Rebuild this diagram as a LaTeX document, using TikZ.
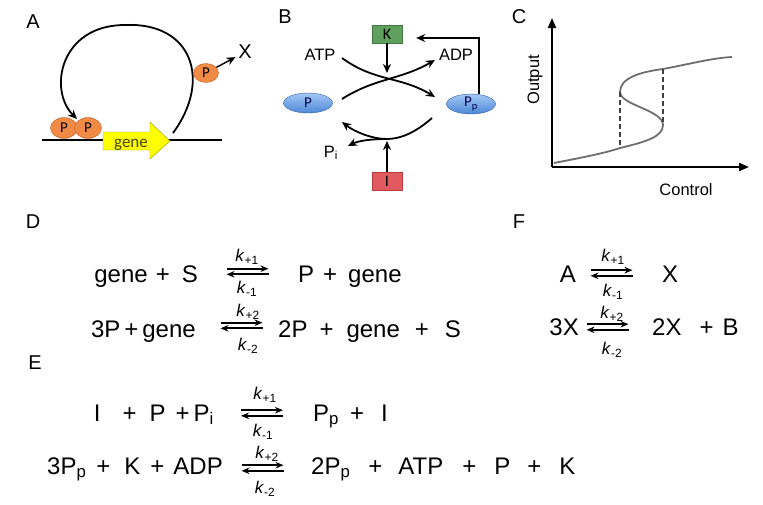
\documentclass[tikz,border=0pt]{standalone}
\usepackage{fontspec}
\setmainfont{Liberation Sans}
\newfontfamily\calibri{Carlito}
\usetikzlibrary{shapes.geometric, arrows.meta, positioning, calc}
\definecolor{protfill}{RGB}{240,138,68}
\definecolor{protline}{RGB}{190,100,45}
\definecolor{genefill}{RGB}{255,255,0}
\definecolor{geneline}{RGB}{150,150,20}
\definecolor{genetext}{RGB}{70,70,20}
\definecolor{bluetop}{RGB}{165,200,245}
\definecolor{bluebot}{RGB}{75,135,215}
\definecolor{blueline}{RGB}{55,95,165}
\definecolor{kinfill}{RGB}{95,160,95}
\definecolor{kinline}{RGB}{65,120,65}
\definecolor{inhfill}{RGB}{225,90,95}
\definecolor{inhline}{RGB}{185,60,65}
\definecolor{curvegray}{RGB}{110,110,110}
\newcommand{\tgap}[1]{\hspace{#1pt}}
\tikzset{
  lbl/.style={font=\fontsize{20}{20}\selectfont, inner sep=0pt},
  eq/.style={font=\fontsize{24}{24}\selectfont, inner sep=0pt},
  rate/.style={font=\fontsize{17}{17}\selectfont, inner sep=0pt},
  txt/.style={font=\fontsize{16.5}{16.5}\selectfont, inner sep=1pt},
  prot/.style={ellipse, draw=protline, fill=protfill, inner sep=0pt,
    minimum width=27, minimum height=21,
    font=\calibri\fontsize{15}{15}\selectfont},
  blob/.style={ellipse, draw=blueline, top color=bluetop, bottom color=bluebot,
    inner sep=0pt, minimum width=49, minimum height=20, text=blue!30!black,
    font=\calibri\fontsize{15}{15}\selectfont},
  enz/.style={rectangle, inner sep=0pt, minimum width=30, minimum height=18,
    font=\calibri\fontsize{16}{16}\selectfont},
  arr/.style={-{Stealth[length=9pt,width=8pt]}, line width=1.8pt},
  fwd/.style={-{Stealth[length=8pt,width=6.5pt]}, line width=1.7pt},
  axis/.style={-{Triangle[length=10pt,width=8pt]}, line width=2pt},
  guide/.style={black!75, dash pattern=on 5pt off 3pt, line width=1.2pt},
  equil/.pic={
    \draw[fwd] (-21,-2.8) -- (21,-2.8);
    \draw[fwd] (21,2.8) -- (-21,2.8);
  }
}

\begin{document}
\begin{tikzpicture}[x=1pt, y=-1pt]
  \useasboundingbox (0,0) rectangle (763,504);

  % A: autoregulated gene
  \node[lbl] (labA) at (33,22) {A};
  \draw[line width=1.8pt] (42,140) -- (222,140);
  \draw[draw=geneline, fill=genefill] (103,132) -- (150,132) -- (150,122)
    -- (170,141) -- (150,159) -- (150,150) -- (103,150) -- cycle;
  \node[font=\calibri\fontsize{17}{17}\selectfont, text=genetext] (gene)
    at (131,145) {gene};
  \node[prot] (p1) at (64,128) {P};
  \node[prot] (p2) at (88,128) {P};
  \coordinate (loopstart) at (173,133);
  \coordinate (bind) at (77,119);
  \draw[arr] (loopstart) .. controls (212,80) and (192,22) .. (125,25)
    .. controls (60,25) and (48,90) .. (bind);
  \node[prot, minimum width=25, minimum height=19] (p3) at (206,73) {P};
  \node[lbl] (X) at (245,52) {X};
  \draw[arr, line width=1.4pt, shorten >=3pt] (p3) -- (X);

  % B: kinase / phosphatase cycle
  \node[lbl] (labB) at (285,17) {B};
  \node[enz, draw=kinline, fill=kinfill] (K) at (387,34) {K};
  \node[enz, draw=inhline, fill=inhfill] (I) at (387,181) {I};
  \node[blob] (P) at (308,103) {P};
  \node[blob] (Pp) at (471,104) {P\textsubscript{p}};
  \node[txt] (ATP) at (320,55) {ATP};
  \node[txt] (ADP) at (456,55) {ADP};
  \node[txt] (Pi) at (331,153) {P\textsubscript{i}};
  \coordinate (xtop) at (387,78);
  \coordinate (xbot) at (387,139);
  \coordinate (atpin) at (342,58);
  \coordinate (ppout) at (435,97);
  \coordinate (pin) at (342,99);
  \coordinate (adpout) at (435,60);
  \coordinate (ppin) at (432,118);
  \coordinate (pout) at (342,122);
  \coordinate (piout) at (348,146);
  \draw[arr] (atpin) .. controls (375,82) and (400,76) .. (ppout);
  \draw[arr] (pin) .. controls (375,78) and (400,80) .. (adpout);
  \draw[arr, shorten >=5pt] (K) -- (xtop);
  \draw[arr] ([xshift=8]Pp.north) |- ([xshift=14,yshift=-4]K.east);
  \draw[arr] (ppin) .. controls (415,133) and (400,139) .. (xbot)
    .. controls (372,139) and (355,132) .. (pout);
  \draw[arr] (xbot) .. controls (370,139) and (358,141) .. (piout);
  \draw[arr, shorten >=2pt] (I) -- (xbot);

  % C: bistable response
  \node[lbl] (labC) at (519,17) {C};
  \coordinate (O) at (552,167);
  \draw[axis] (O) -- (552,18);
  \draw[axis] (O) -- (749,167);
  \node[txt, rotate=90] (ylab) at (535,80) {Output};
  \node[txt] (xlab) at (686,190) {Control};
  \draw[curvegray, line width=1.8pt] (554,163)
    .. controls (585,157) and (605,153) .. (620,148)
    .. controls (645,142) and (663,137) .. (663,125)
    .. controls (663,110) and (620,105) .. (620,92)
    .. controls (620,78) and (640,72) .. (663,69)
    .. controls (690,64) and (712,58) .. (732,57);
  \draw[guide] (620,92) -- (620,148);
  \draw[guide] (663,69) -- (663,125);

  % D
  \node[lbl] (labD) at (33,222) {D};
  \node[eq, anchor=base east] (d1l) at (198,282) {gene\tgap{8}+\tgap{12}S};
  \pic at (247.5,271.5) {equil};
  \node[rate] (d1f) at (247,257) {\textit{k}\textsubscript{+1}};
  \node[rate] (d1b) at (247,289) {\textit{k}\textsubscript{-1}};
  \node[eq, anchor=base west] (d1r) at (298,282) {P\tgap{9}+\tgap{11}gene};
  \node[eq, anchor=base east] (d2l) at (196,337) {3P\tgap{4}+\tgap{4}gene};
  \pic at (241.5,325.5) {equil};
  \node[rate] (d2f) at (248,312) {\textit{k}\textsubscript{+2}};
  \node[rate] (d2b) at (248,346) {\textit{k}\textsubscript{-2}};
  \node[eq, anchor=base west] (d2r) at (278,337)
    {2P\tgap{12}+\tgap{13}gene\tgap{15}+\tgap{16}S};

  % F
  \node[lbl] (labF) at (519,222) {F};
  \node[eq, anchor=base east] (f1l) at (576,282) {A};
  \pic at (611.5,273) {equil};
  \node[rate] (f1f) at (613,257) {\textit{k}\textsubscript{+1}};
  \node[rate] (f1b) at (613,292) {\textit{k}\textsubscript{-1}};
  \node[eq, anchor=base west] (f1r) at (662,282) {X};
  \node[eq, anchor=base east] (f2l) at (579,335) {3X};
  \pic at (607.5,327) {equil};
  \node[rate] (f2f) at (612,314) {\textit{k}\textsubscript{+2}};
  \node[rate] (f2b) at (612,350) {\textit{k}\textsubscript{-2}};
  \node[eq, anchor=base west] (f2r) at (652,335) {2X\tgap{18}+\tgap{9}B};

  % E
  \node[lbl] (labE) at (35,363) {E};
  \node[eq, anchor=base east] (e1l) at (214,421)
    {I\tgap{22}+\tgap{13}P\tgap{10}+\tgap{4}P\textsubscript{i}};
  \pic at (262,413) {equil};
  \node[rate] (e1f) at (265,395) {\textit{k}\textsubscript{+1}};
  \node[rate] (e1b) at (263,432) {\textit{k}\textsubscript{-1}};
  \node[eq, anchor=base west] (e1r) at (313,421)
    {P\textsubscript{p}\tgap{11}+\tgap{17}I};
  \node[eq, anchor=base east] (e2l) at (223,474)
    {3P\textsubscript{p}\tgap{10}+\tgap{14}K\tgap{10}+\tgap{9}ADP};
  \pic at (262.5,468) {equil};
  \node[rate] (e2f) at (267,454) {\textit{k}\textsubscript{+2}};
  \node[rate] (e2b) at (265,489) {\textit{k}\textsubscript{-2}};
  \node[eq, anchor=base west] (e2r) at (311,474)
    {2P\textsubscript{p}\tgap{18}+\tgap{16}ATP\tgap{19}+\tgap{18}P\tgap{17}+\tgap{18}K};
\end{tikzpicture}
\end{document}
